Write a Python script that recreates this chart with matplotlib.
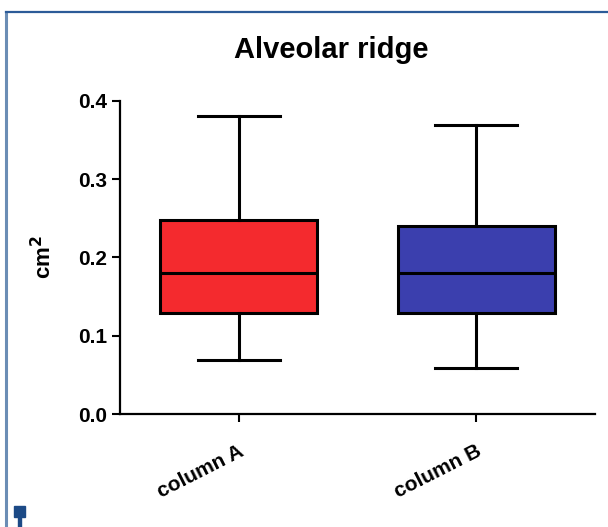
import matplotlib.pyplot as plt
import matplotlib as mpl
from matplotlib.lines import Line2D
from matplotlib.patches import Rectangle

mpl.rcParams['font.family'] = ['Liberation Sans', 'DejaVu Sans']
mpl.rcParams['font.weight'] = 'bold'

labels = ['column A', 'column B']
whislo = [0.069, 0.059]
q1 = [0.129, 0.129]
med = [0.180, 0.180]
q3 = [0.248, 0.240]
whishi = [0.381, 0.369]
colors = ['#f42a2e', '#3b3fae']

stats = []
for i in range(len(labels)):
    stats.append({'label': labels[i], 'whislo': whislo[i], 'q1': q1[i],
                  'med': med[i], 'q3': q3[i], 'whishi': whishi[i], 'fliers': []})

fig = plt.figure(figsize=(6.08, 5.27), dpi=100)
ax = fig.add_axes([0.197, 0.2144, 0.782, 0.594])

lw = 2.2
bp = ax.bxp(stats, positions=[1, 2], widths=0.66, capwidths=0.345,
            patch_artist=True, showfliers=False,
            boxprops=dict(linewidth=lw, edgecolor='black'),
            medianprops=dict(linewidth=lw, color='black'),
            whiskerprops=dict(linewidth=lw, color='black'),
            capprops=dict(linewidth=lw, color='black'))
for patch, c in zip(bp['boxes'], colors):
    patch.set_facecolor(c)

ax.set_xlim(0.5, 2.5)
ax.set_ylim(0, 0.4)
ax.set_yticks([0.0, 0.1, 0.2, 0.3, 0.4])
ax.set_yticklabels(['0.0', '0.1', '0.2', '0.3', '0.4'], fontsize=15, fontweight='bold')
ax.set_xticks([1, 2])
ax.set_xticklabels(labels, rotation=27, ha='right', rotation_mode='anchor',
                   fontsize=15, fontweight='bold')
ax.tick_params(axis='both', direction='out', length=6, width=1.5, color='black')
ax.tick_params(axis='x', pad=14)
ax.tick_params(axis='y', pad=3)

for s in ['top', 'right']:
    ax.spines[s].set_visible(False)
for s in ['left', 'bottom']:
    ax.spines[s].set_linewidth(1.6)

ax.set_ylabel('cm$^{\\mathbf{2}}$', fontsize=16, fontweight='bold', labelpad=16)
fig.text(331 / 608, 1 - 50 / 527, 'Alveolar ridge', fontsize=21, fontweight='bold',
         ha='center', va='center')

# page frame
fig.add_artist(Line2D([0.0099, 0.0099], [0, 0.977], color='#6b8db5', lw=2.2,
                      transform=fig.transFigure))
fig.add_artist(Line2D([0.0099, 1.0], [0.977, 0.977], color='#2c5b98', lw=1.6,
                      transform=fig.transFigure))
fig.add_artist(Rectangle((14 / 608, 10 / 527), 11 / 608, 11 / 527, color='#1c4a86',
                         transform=fig.transFigure))
fig.add_artist(Rectangle((18 / 608, 0), 3 / 608, 12 / 527, color='#1c4a86',
                         transform=fig.transFigure))

fig.savefig('out.png', dpi=100)
